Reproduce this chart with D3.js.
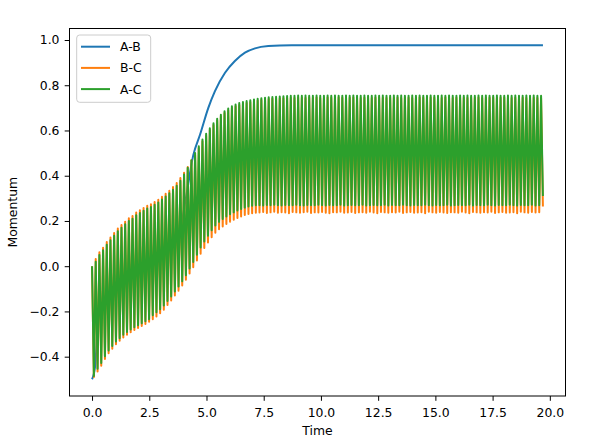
<!DOCTYPE html>
<html lang="en">
<head>
<meta charset="utf-8">
<script src="https://d3js.org/d3.v7.min.js"></script>
<title>Momentum</title>
<style>
  body { margin: 0; background: #fff; }
  text { font-family: "DejaVu Sans", sans-serif; fill: #000; }
</style>
</head>
<body>
<div id="chart"></div>
<script>
// sampling step of the two oscillating series (peak, trough, peak, ...)
const dt = 0.0804;

const seriesNames = ["A-B", "B-C", "A-C"];

// A-B: smooth curve, read at a few times (hidden part estimated inside the band)
const abTime  = [0, 0.13, 0.3, 0.5, 1, 1.5, 2, 2.5, 3, 3.5, 3.8, 4.1, 4.42, 4.72, 5.08, 5.37, 5.81, 6.24, 6.68, 7.12, 7.7, 8.72, 10, 19.7];
const abValue = [-0.5, -0.445, -0.2, -0.17, -0.1, -0.053, -0.018, 0.013, 0.052, 0.103, 0.14, 0.3, 0.49, 0.582, 0.70, 0.774, 0.855, 0.907, 0.944, 0.963, 0.973, 0.977, 0.977, 0.977];

// B-C peaks and troughs
const bcPeaks = [
  0.00,0.032,0.062,0.082,0.107,0.127,0.147,0.167,0.182,0.197,
  0.212,0.222,0.237,0.247,0.257,0.267,0.274,0.284,0.294,0.307,
  0.32,0.334,0.35,0.368,0.39,0.413,0.439,0.468,0.492,0.522,
  0.552,0.577,0.602,0.624,0.644,0.662,0.677,0.689,0.699,0.707,
  0.713,0.718,0.722,0.726,0.729,0.732,0.735,0.737,0.739,0.74,
  0.741,0.742,0.743,0.744,
  0.745,0.744,0.746,0.745,0.744,0.746,0.745,0.746,0.744,0.745,
  0.746,0.745,0.744,0.746,0.745,0.744,0.745,0.746,0.745,0.744,
  0.745,0.746,0.744,0.745,0.746,0.745,0.744,0.746,0.745,0.745,
  0.744,0.746,0.745,0.744,0.745,0.746,0.745,0.744,0.746,0.745,
  0.745,0.744,0.746,0.745,0.744,0.745,0.746,0.745,0.744,0.746,
  0.745,0.746,0.744,0.745,0.745,0.746,0.744,0.745,0.746,0.745,
  0.744,0.745,0.746,0.745,0.744,0.746,0.745,0.744,0.745
];
const bcTroughs = [
  -0.49,-0.465,-0.44,-0.41,-0.385,-0.365,-0.345,-0.33,-0.315,-0.303,
  -0.292,-0.282,-0.273,-0.264,-0.255,-0.246,-0.235,-0.222,-0.208,-0.192,
  -0.172,-0.152,-0.13,-0.108,-0.085,-0.06,-0.032,-0.005,0.025,0.055,
  0.08,0.105,0.128,0.148,0.163,0.176,0.187,0.197,0.205,0.213,
  0.22,0.226,0.231,0.234,0.236,
  0.237,0.24,0.235,0.238,0.241,0.236,0.239,0.237,0.234,0.24,0.238,
  0.236,0.239,0.241,0.235,0.238,0.237,0.24,0.236,0.234,0.239,0.238,
  0.241,0.236,0.237,0.24,0.235,0.238,0.239,0.236,0.241,0.237,0.234,
  0.24,0.238,0.236,0.239,0.237,0.241,0.235,0.238,0.24,0.236,0.237,
  0.239,0.234,0.241,0.238,0.236,0.24,0.237,0.235,0.239,0.238,0.236,
  0.241,0.237,0.234,0.24,0.238,0.236,0.239,0.237,0.241,0.235,0.238,
  0.24,0.236,0.237,0.239,0.234,0.241,0.238,0.236,0.24,0.237,0.239,
  0.264
];

// A-C peaks and troughs
const acPeaks = [
  0.00,0.02,0.05,0.07,0.095,0.115,0.135,0.155,0.17,0.185,
  0.20,0.21,0.225,0.235,0.245,0.255,0.262,0.272,0.282,0.295,
  0.308,0.322,0.338,0.356,0.378,0.405,0.435,0.468,0.50,0.53,
  0.56,0.585,0.61,0.632,0.652,0.67,0.685,0.697,0.707,0.715,
  0.721,0.726,0.73,0.734,0.737,0.74,0.743,0.745,0.747,0.748,
  0.749,0.75,0.751,0.752,
  0.754,0.753,0.755,0.754,0.755,0.753,0.754,0.755,0.754,0.753,
  0.755,0.754,0.755,0.753,0.754,0.755,0.754,0.755,0.753,0.754,
  0.755,0.754,0.753,0.755,0.754,0.755,0.754,0.753,0.755,0.754,
  0.755,0.753,0.754,0.755,0.754,0.755,0.753,0.754,0.755,0.754,
  0.753,0.755,0.754,0.755,0.754,0.753,0.755,0.754,0.755,0.753,
  0.754,0.755,0.754,0.755,0.753,0.754,0.755,0.754,0.753,0.755,
  0.754,0.755,0.753,0.754,0.755,0.754,0.755,0.753,0.754
];
const acTroughs = [
  -0.485,-0.453,-0.428,-0.398,-0.373,-0.353,-0.333,-0.318,-0.303,-0.291,
  -0.28,-0.27,-0.261,-0.252,-0.243,-0.234,-0.217,-0.204,-0.19,-0.174,
  -0.154,-0.134,-0.112,-0.09,-0.067,-0.04,-0.01,0.019,0.051,0.083,
  0.109,0.135,0.159,0.18,0.196,0.209,0.22,0.23,0.238,0.246,
  0.253,0.259,0.264,0.267,0.269,
  0.27,0.268,0.271,0.269,0.272,0.27,0.268,0.271,0.27,0.269,0.272,
  0.27,0.268,0.271,0.27,0.269,0.272,0.27,0.268,0.271,0.269,0.27,
  0.272,0.268,0.27,0.271,0.269,0.27,0.272,0.268,0.27,0.271,0.269,
  0.27,0.272,0.268,0.271,0.27,0.269,0.272,0.27,0.268,0.271,0.27,
  0.269,0.272,0.27,0.268,0.271,0.269,0.27,0.272,0.268,0.27,0.271,
  0.27,0.269,0.272,0.268,0.271,0.27,0.269,0.272,0.27,0.268,0.271,
  0.27,0.269,0.272,0.27,0.268,0.271,0.269,0.27,0.272,0.268,0.27,
  0.31
];

const xTicks = [0, 2.5, 5, 7.5, 10, 12.5, 15, 17.5, 20];
const yTicks = [-0.4, -0.2, 0, 0.2, 0.4, 0.6, 0.8, 1.0];
const colors = ["#1f77b4", "#ff7f0e", "#2ca02c"];

// peaks and troughs alternate in time
function zigzag(peaks, troughs) {
  const out = [];
  peaks.forEach(function(p, i) {
    out.push({t: 2 * i * dt, v: p});
    out.push({t: (2 * i + 1) * dt, v: troughs[i]});
  });
  return out;
}

const abData = abTime.map(function(t, i) { return {t: t, v: abValue[i]}; });
const bcData = zigzag(bcPeaks, bcTroughs);
const acData = zigzag(acPeaks, acTroughs);
const all = abData.concat(bcData, acData);

const W = 598, H = 442;
const margin = {top: 28.5, right: 32.5, bottom: 46, left: 69.5};
const width = W - margin.left - margin.right,
      height = H - margin.top - margin.bottom;

const svg = d3.select("#chart")
  .append("svg")
    .attr("width", W)
    .attr("height", H);

const g = svg.append("g")
  .attr("transform", `translate(${margin.left},${margin.top})`);

// matplotlib style 5% margins
const xExt = d3.extent(all, function(d) { return d.t; });
const yExt = d3.extent(all, function(d) { return d.v; });
const xPad = (xExt[1] - xExt[0]) * 0.05, yPad = (yExt[1] - yExt[0]) * 0.05;

const x = d3.scaleLinear()
  .domain([xExt[0] - xPad, xExt[1] + xPad])
  .range([0, width]);
const y = d3.scaleLinear()
  .domain([yExt[0] - yPad, yExt[1] + yPad])
  .range([height, 0]);

const fmt = function(d) { return d3.format(".1f")(d).replace("-", "\u2212"); };

const xAxis = g.append("g")
  .attr("transform", `translate(0,${height})`)
  .call(d3.axisBottom(x).tickValues(xTicks).tickFormat(fmt).tickSize(4.8).tickPadding(7.2).tickSizeOuter(0));
const yAxis = g.append("g")
  .call(d3.axisLeft(y).tickValues(yTicks).tickFormat(fmt).tickSize(4.8).tickPadding(5.2).tickSizeOuter(0));

[xAxis, yAxis].forEach(function(a) {
  a.select(".domain").remove();
  a.selectAll("line").attr("stroke", "#000").attr("stroke-width", 1);
  a.selectAll("text")
    .style("font-family", '"DejaVu Sans", sans-serif')
    .style("font-size", "12.4px")
    .attr("fill", "#000");
});

g.append("clipPath").attr("id", "plot-clip")
  .append("rect").attr("width", width).attr("height", height);

const line = d3.line()
  .x(function(d) { return x(d.t); })
  .y(function(d) { return y(d.v); });

const plot = g.append("g").attr("clip-path", "url(#plot-clip)");

plot.append("path")
  .datum(abData)
  .attr("fill", "none")
  .attr("stroke", colors[0])
  .attr("stroke-width", 2)
  .attr("d", line.curve(d3.curveMonotoneX));

line.curve(d3.curveLinear);

plot.append("path")
  .datum(bcData)
  .attr("fill", "none")
  .attr("stroke", colors[1])
  .attr("stroke-width", 2)
  .attr("stroke-linejoin", "round")
  .attr("d", line);

plot.append("path")
  .datum(acData)
  .attr("fill", "none")
  .attr("stroke", colors[2])
  .attr("stroke-width", 2)
  .attr("stroke-linejoin", "round")
  .attr("d", line);

// spines
g.append("rect")
  .attr("width", width)
  .attr("height", height)
  .attr("fill", "none")
  .attr("stroke", "#000")
  .attr("stroke-width", 1);

// axis labels
svg.append("text")
  .attr("x", margin.left + width / 2)
  .attr("y", 435)
  .attr("text-anchor", "middle")
  .style("font-size", "12.4px")
  .text("Time");

svg.append("text")
  .attr("transform", `translate(17.3,${margin.top + height / 2}) rotate(-90)`)
  .attr("text-anchor", "middle")
  .style("font-size", "12.4px")
  .text("Momentum");

// legend
const legend = svg.append("g").attr("transform", "translate(76.7,35)");
legend.append("rect")
  .attr("width", 74)
  .attr("height", 67.3)
  .attr("rx", 3)
  .attr("fill", "#fff")
  .attr("fill-opacity", 0.8)
  .attr("stroke", "#cccccc")
  .attr("stroke-width", 1);

seriesNames.forEach(function(name, i) {
  const row = legend.append("g").attr("transform", `translate(0,${11.7 + i * 21.2})`);
  row.append("line")
    .attr("x1", 4.3).attr("x2", 33.3)
    .attr("stroke", colors[i])
    .attr("stroke-width", 2);
  row.append("text")
    .attr("x", 43.3)
    .attr("dy", "0.36em")
    .style("font-size", "12.4px")
    .text(name);
});
</script>
</body>
</html>
